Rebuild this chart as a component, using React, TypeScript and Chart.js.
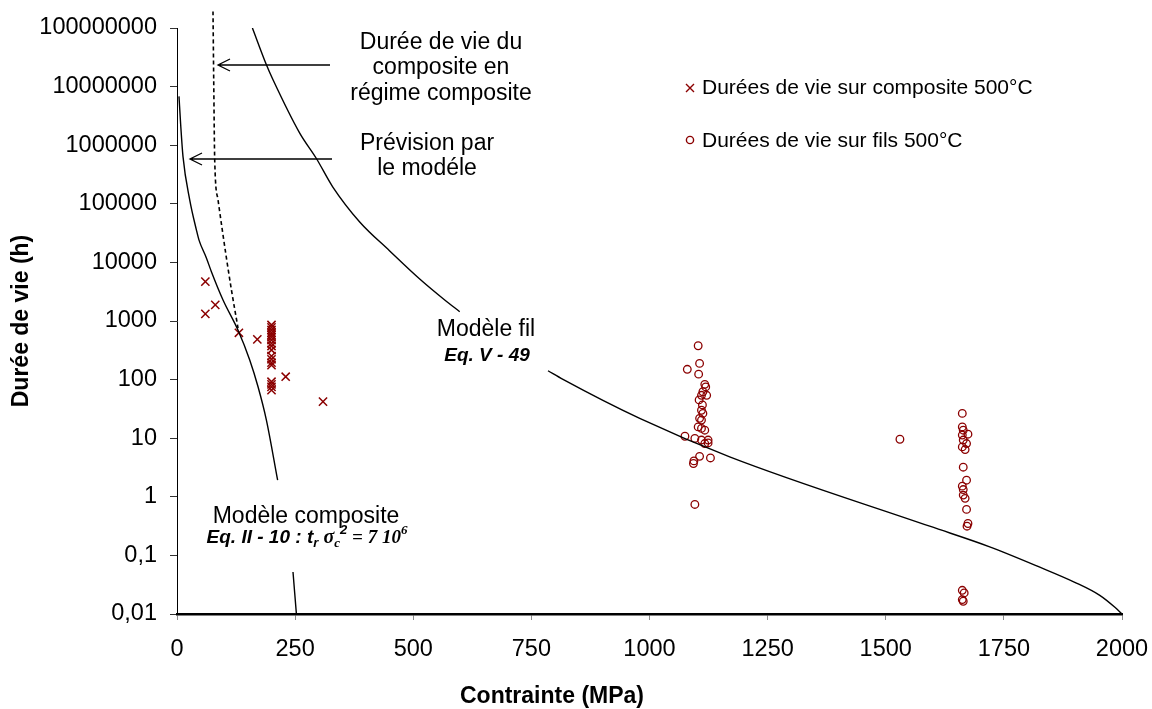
import React, { useEffect, useRef } from "react";
import { Chart, registerables } from "chart.js";

Chart.register(...registerables);

const SANS = "'Liberation Sans', Arial, sans-serif";
const SERIF = "'Liberation Serif', 'Times New Roman', serif";
const RED = "#8b0000";

// Axis ticks
const xTickValues = [0, 250, 500, 750, 1000, 1250, 1500, 1750, 2000];
const yTickValues = [0.01, 0.1, 1, 10, 100, 1000, 10000, 100000, 1000000, 10000000, 100000000];

// Durées de vie sur composite 500°C (crosses)
const compositeStress = [60, 81, 60, 131, 170, 230, 309,
  200, 200, 200, 200, 200, 200, 200, 200, 200, 200, 200, 200, 200, 200, 200, 200, 200, 200];
const compositeLife = [4690, 1880, 1320, 630, 487, 112, 42,
  855, 780, 702, 631, 577, 527, 473, 416, 374, 320, 252, 222, 194, 177, 92, 83, 75, 66];

// Durées de vie sur fils 500°C (circles)
const filsStress = [1103, 1106, 1080, 1104, 1117, 1119, 1113, 1121, 1110, 1105, 1112, 1110, 1113, 1106,
  1110, 1103, 1110, 1117, 1075, 1096, 1110, 1124, 1117, 1124, 1106, 1129, 1094, 1093, 1096,
  1530,
  1662, 1662, 1664, 1674, 1662, 1664, 1671, 1662, 1668, 1664, 1671, 1662, 1664, 1664, 1668, 1671,
  1674, 1672, 1662, 1666, 1662, 1664];
const filsLife = [378, 189, 150, 124, 83, 75, 62, 54, 54, 45, 37, 30, 26.5, 21.8,
  20.4, 15.6, 14.7, 13.7, 10.8, 9.9, 9.3, 9.3, 8.1, 8.3, 4.9, 4.6, 4.1, 3.7, 0.74,
  9.6,
  26.5, 15.6, 13.7, 11.7, 11.3, 9.3, 8.1, 7.1, 6.4, 3.2, 1.92, 1.52, 1.33, 1.07, 0.94, 0.61,
  0.35, 0.315, 0.0254, 0.0229, 0.0176, 0.0165];

// Modèle composite (solid), split where the label box covers it
const compModelStressA = [4.2, 7.8, 12.7, 26.9, 41, 46.6, 62.2, 72.8, 97.4, 129, 153.9, 171.5, 189.2, 213];
const compModelLifeA = [6.8e6, 2.23e6, 6.4e5, 1.17e5, 3.6e4, 2.4e4, 1.19e4, 6950, 2285, 702, 216, 75.5, 20.4, 1.92];
const compModelStressB = [245.5, 252.7];
const compModelLifeB = [0.052, 0.01];

// Durée de vie du composite en régime composite (dashed)
const regimeStress = [76.2, 77.7, 79.8, 86.8, 104.6, 115.2, 129.1];
const regimeLife = [1.92e8, 1.31e7, 5.6e5, 1.17e5, 1.19e4, 3390, 759];

// Modèle fil (solid), split where the label box covers it
const filModelStressA = [159.6, 189.2, 203.2, 259.7, 295, 329.5, 386.7, 450.2, 513.7, 566.6, 598.3];
const filModelLifeA = [1e8, 2.36e7, 1.31e7, 1.61e6, 5.93e5, 1.95e5, 4.9e4, 1.57e4, 5210, 2285, 1442];
const filModelStressB = [785.2, 816.9, 979.3, 1169.7, 1593, 1720, 1826, 1900, 1953, 1985, 2000];
const filModelLifeB = [141.6, 101, 21.8, 4.81, 0.315, 0.14, 0.063, 0.0348, 0.0208, 0.013, 0.01];

const pts = (xs: number[], ys: number[]) => xs.map((x, i) => ({ x, y: ys[i] }));

function drawArrow(ctx: CanvasRenderingContext2D, x1: number, y: number, x2: number) {
  ctx.beginPath();
  ctx.moveTo(x1, y);
  ctx.lineTo(x2, y);
  ctx.moveTo(x2 + 12, y - 6);
  ctx.lineTo(x2, y);
  ctx.lineTo(x2 + 12, y + 6);
  ctx.stroke();
}

type Seg = { t: string; f: string; dy: number };
function drawRich(ctx: CanvasRenderingContext2D, segs: Seg[], cx: number, baseline: number) {
  let total = 0;
  for (const s of segs) {
    ctx.font = s.f;
    total += ctx.measureText(s.t).width;
  }
  let x = cx - total / 2;
  ctx.textAlign = "left";
  ctx.textBaseline = "alphabetic";
  for (const s of segs) {
    ctx.font = s.f;
    ctx.fillText(s.t, x, baseline + s.dy);
    x += ctx.measureText(s.t).width;
  }
}

const annotationPlugin = {
  id: "annotations",
  afterDraw(chart: any) {
    const ctx: CanvasRenderingContext2D = chart.ctx;
    ctx.save();
    ctx.fillStyle = "#000";
    ctx.strokeStyle = "#000";
    ctx.lineWidth = 1.3;

    ctx.textAlign = "center";
    ctx.textBaseline = "middle";
    ctx.font = `23px ${SANS}`;
    ctx.fillText("Durée de vie du", 441, 43);
    ctx.fillText("composite en", 441, 68);
    ctx.fillText("régime composite", 441, 94);
    ctx.fillText("Prévision par", 427, 144);
    ctx.fillText("le modéle", 427, 169);
    ctx.fillText("Modèle composite", 306, 517);
    ctx.fillText("Modèle fil", 486, 330);

    ctx.font = `italic bold 19px ${SANS}`;
    ctx.fillText("Eq. V - 49", 487, 356);

    drawRich(ctx, [
      { t: "Eq. II - 10 : t", f: `italic bold 19px ${SANS}`, dy: 0 },
      { t: "r", f: `italic bold 13px ${SANS}`, dy: 4 },
      { t: " ", f: `italic bold 19px ${SANS}`, dy: 0 },
      { t: "σ", f: `italic bold 20px ${SERIF}`, dy: 0 },
      { t: "c", f: `italic bold 13px ${SERIF}`, dy: 4 },
      { t: "2", f: `italic bold 13px ${SANS}`, dy: -9 },
      { t: " = 7 10", f: `italic bold 19px ${SERIF}`, dy: 0 },
      { t: "6", f: `italic bold 13px ${SERIF}`, dy: -9 },
    ], 307, 543);

    drawArrow(ctx, 330, 65, 218);
    drawArrow(ctx, 332, 159, 190);

    // Legend
    ctx.strokeStyle = RED;
    ctx.lineWidth = 1.4;
    ctx.beginPath();
    ctx.moveTo(686, 84); ctx.lineTo(694, 92);
    ctx.moveTo(694, 84); ctx.lineTo(686, 92);
    ctx.stroke();
    ctx.beginPath();
    ctx.arc(690, 140, 3.6, 0, Math.PI * 2);
    ctx.stroke();
    ctx.fillStyle = "#000";
    ctx.textAlign = "left";
    ctx.textBaseline = "middle";
    ctx.font = `21px ${SANS}`;
    ctx.fillText("Durées de vie sur composite 500°C", 702, 88);
    ctx.fillText("Durées de vie sur fils 500°C", 702, 141);

    // Axis titles
    ctx.font = `bold 23px ${SANS}`;
    ctx.textAlign = "center";
    ctx.fillText("Contrainte (MPa)", 552, 697);
    ctx.save();
    ctx.translate(22, 321);
    ctx.rotate(-Math.PI / 2);
    ctx.fillText("Durée de vie (h)", 0, 0);
    ctx.restore();

    ctx.restore();
  },
};

export default function App() {
  const ref = useRef<HTMLCanvasElement>(null);

  useEffect(() => {
    document.body.style.margin = "0";
    document.body.style.overflow = "hidden";
    const canvas = ref.current;
    if (!canvas) return;

    const lineStyle = {
      showLine: true,
      pointRadius: 0,
      borderColor: "#000",
      borderWidth: 1.4,
      cubicInterpolationMode: "monotone" as const,
      fill: false,
    };

    const chart = new Chart(canvas, {
      type: "scatter",
      data: {
        datasets: [
          { ...lineStyle, label: "Modèle composite", data: pts(compModelStressA, compModelLifeA) },
          { ...lineStyle, label: "Modèle composite (suite)", data: pts(compModelStressB, compModelLifeB) },
          {
            ...lineStyle,
            label: "Régime composite",
            data: pts(regimeStress, regimeLife),
            borderDash: [4, 3],
            borderWidth: 1.6,
            clip: { left: 5, top: 25, right: 5, bottom: 5 },
          } as any,
          { ...lineStyle, label: "Modèle fil", data: pts(filModelStressA, filModelLifeA) },
          { ...lineStyle, label: "Modèle fil (suite)", data: pts(filModelStressB, filModelLifeB) },
          {
            label: "Durées de vie sur composite 500°C",
            data: pts(compositeStress, compositeLife),
            pointStyle: "crossRot",
            pointRadius: 5.8,
            borderColor: RED,
            backgroundColor: RED,
            pointBorderWidth: 1.5,
            showLine: false,
          },
          {
            label: "Durées de vie sur fils 500°C",
            data: pts(filsStress, filsLife),
            pointStyle: "circle",
            pointRadius: 3.8,
            borderColor: RED,
            backgroundColor: "rgba(0,0,0,0)",
            pointBorderWidth: 1.3,
            showLine: false,
          },
        ],
      },
      options: {
        responsive: false,
        animation: false,
        devicePixelRatio: 1,
        layout: { padding: { top: 28, right: 30, left: 0, bottom: 0 } },
        plugins: { legend: { display: false }, tooltip: { enabled: false } },
        scales: {
          x: {
            type: "linear",
            min: 0,
            max: 2000,
            afterBuildTicks: (s: any) => {
              s.ticks = xTickValues.map((value) => ({ value }));
            },
            afterFit: (s: any) => {
              s.height = 95;
              s.paddingLeft = 0;
              s.paddingRight = 0;
            },
            grid: { drawOnChartArea: false, drawTicks: true, tickLength: 6, color: "#8c8c8c" },
            border: { color: "#000", width: 2.5 },
            ticks: {
              color: "#000",
              padding: 15,
              font: { family: SANS, size: 23.5 },
              maxRotation: 0,
              autoSkip: false,
              callback: (v: any) => String(v),
            },
          },
          y: {
            type: "logarithmic",
            min: 0.01,
            max: 100000000,
            afterBuildTicks: (s: any) => {
              s.ticks = yTickValues.map((value) => ({ value }));
            },
            afterFit: (s: any) => {
              s.width = 177;
            },
            grid: { drawOnChartArea: false, drawTicks: true, tickLength: 7, color: "#333" },
            border: { color: "#000", width: 1 },
            ticks: {
              color: "#000",
              padding: 13,
              autoSkip: false,
              font: { family: SANS, size: 23.5 },
              callback: (v: any) => String(v).replace(".", ","),
            },
          },
        },
      },
      plugins: [annotationPlugin],
    });

    return () => chart.destroy();
  }, []);

  return (
    <div style={{ width: 1152, height: 709, background: "#fff" }}>
      <canvas ref={ref} width={1152} height={709} style={{ display: "block" }} />
    </div>
  );
}
